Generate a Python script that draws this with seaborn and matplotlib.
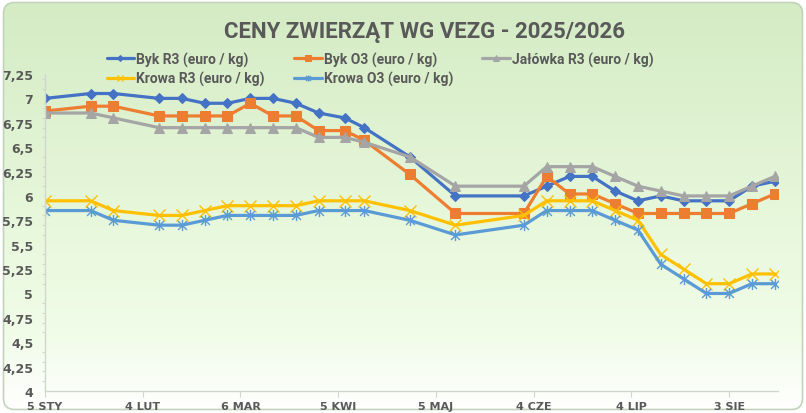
import numpy as np
import pandas as pd
import seaborn as sns
import matplotlib
matplotlib.use("Agg")
import matplotlib.pyplot as plt
from matplotlib import font_manager
from matplotlib.path import Path
from matplotlib.patches import FancyBboxPatch
from matplotlib.ticker import FuncFormatter, MultipleLocator
from matplotlib.colors import LinearSegmentedColormap

# dane
dates = ["2025-01-05", "2025-01-19", "2025-01-26", "2025-02-09", "2025-02-16", "2025-02-23",
         "2025-03-02", "2025-03-09", "2025-03-16", "2025-03-23", "2025-03-30", "2025-04-07",
         "2025-04-13", "2025-04-27", "2025-05-11", "2025-06-01", "2025-06-08", "2025-06-15",
         "2025-06-22", "2025-06-29", "2025-07-06", "2025-07-13", "2025-07-20", "2025-07-27",
         "2025-08-03", "2025-08-10", "2025-08-17"]
byk_r3 = [7.00, 7.05, 7.05, 7.00, 7.00, 6.95, 6.95, 7.00, 7.00, 6.95, 6.85, 6.80, 6.70, 6.40,
          6.00, 6.00, 6.10, 6.20, 6.20, 6.05, 5.95, 6.00, 5.95, 5.95, 5.95, 6.10, 6.15]
byk_o3 = [6.87, 6.92, 6.92, 6.82, 6.82, 6.82, 6.82, 6.95, 6.82, 6.82, 6.67, 6.67, 6.57, 6.22,
          5.82, 5.82, 6.20, 6.02, 6.02, 5.92, 5.82, 5.82, 5.82, 5.82, 5.82, 5.92, 6.02]
jalowka_r3 = [6.85, 6.85, 6.80, 6.70, 6.70, 6.70, 6.70, 6.70, 6.70, 6.70, 6.60, 6.60, 6.55, 6.40,
              6.10, 6.10, 6.30, 6.30, 6.30, 6.20, 6.10, 6.05, 6.00, 6.00, 6.00, 6.10, 6.20]
krowa_r3 = [5.95, 5.95, 5.85, 5.80, 5.80, 5.85, 5.90, 5.90, 5.90, 5.90, 5.95, 5.95, 5.95, 5.85,
            5.70, 5.80, 5.95, 5.95, 5.95, 5.85, 5.75, 5.40, 5.25, 5.10, 5.10, 5.20, 5.20]
krowa_o3 = [5.85, 5.85, 5.75, 5.70, 5.70, 5.75, 5.80, 5.80, 5.80, 5.80, 5.85, 5.85, 5.85, 5.75,
            5.60, 5.70, 5.85, 5.85, 5.85, 5.75, 5.65, 5.30, 5.15, 5.00, 5.00, 5.10, 5.10]

labels = ["Byk R3 (euro / kg)", "Byk O3 (euro / kg)", "Jałówka R3 (euro / kg)",
          "Krowa R3 (euro / kg)", "Krowa O3 (euro / kg)"]
tick_dates = ["2025-01-05", "2025-02-04", "2025-03-06", "2025-04-05", "2025-05-05",
              "2025-06-04", "2025-07-04", "2025-08-03"]
tick_labels = ["5 STY", "4 LUT", "6 MAR", "5 KWI", "5 MAJ", "4 CZE", "4 LIP", "3 SIE"]

df = pd.DataFrame({"data": pd.to_datetime(dates), labels[0]: byk_r3, labels[1]: byk_o3,
                   labels[2]: jalowka_r3, labels[3]: krowa_r3, labels[4]: krowa_o3})


def pick_font(names):
    for n in names:
        try:
            font_manager.findfont(n, fallback_to_default=False)
            return n
        except Exception:
            pass
    return "DejaVu Sans"


sns.set_theme(style="white")
narrow = pick_font(["Liberation Sans Narrow", "DejaVu Sans Condensed", "Roboto"])
plt.rcParams['font.family'] = [narrow, 'DejaVu Sans']

W, H = 806, 414
fig = plt.figure(figsize=(W / 100, H / 100), dpi=100)
fig.patch.set_facecolor("white")

# tlo z gradientem w zaokraglonej ramce
bg = fig.add_axes([0, 0, 1, 1], zorder=-5)
bg.set_xlim(0, W)
bg.set_ylim(H, 0)
bg.axis("off")
cmap = LinearSegmentedColormap.from_list("bg", [(0, "#d4ebc4"), (0.55, "#e8f8dc"),
                                               (0.82, "#f1fce9"), (1.0, "#ffffff")])
grad = np.linspace(0, 1, 256).reshape(-1, 1)
img = bg.imshow(grad, cmap=cmap, aspect="auto", extent=(3, 803, 411, 3))
box = FancyBboxPatch((3.5, 3.5), 799, 407, boxstyle="round,pad=0,rounding_size=11",
                     fc="none", ec="#c3d3bb", lw=1.2)
bg.add_patch(box)
img.set_clip_path(box)

ax = fig.add_axes([45 / W, 1 - 392 / H, (778 - 45) / W, (392 - 75) / H])
ax.set_facecolor("none")

star = Path([(-1, -1), (1, 1), (-1, 1), (1, -1), (0, -1.25), (0, 1.25)],
            [Path.MOVETO, Path.LINETO, Path.MOVETO, Path.LINETO, Path.MOVETO, Path.LINETO])
styles = [
    dict(color="#4472c4", marker="D", markersize=5.5),
    dict(color="#ed7d31", marker="s", markersize=7),
    dict(color="#a5a5a5", marker="^", markersize=7.5),
    dict(color="#ffc000", marker="x", markersize=8.5, markeredgewidth=1),
    dict(color="#5b9bd5", marker=star, markersize=8, markeredgewidth=1),
]
for lab, st in zip(labels, styles):
    sns.lineplot(data=df, x="data", y=lab, ax=ax, label=lab, linewidth=2.3,
                 markeredgecolor=st["color"], **st)

ax.set_ylim(4, 7.25)
ax.set_xlim(pd.Timestamp("2025-01-05"), pd.Timestamp("2025-01-05") + pd.Timedelta(days=225))
ax.yaxis.set_major_locator(MultipleLocator(0.25))
ax.yaxis.set_minor_locator(MultipleLocator(0.1))
ax.yaxis.set_major_formatter(FuncFormatter(lambda v, p: f"{v:g}".replace(".", ",")))
ax.set_xticks(pd.to_datetime(tick_dates))
ax.set_xticklabels(tick_labels)
ax.set_xlabel("")
ax.set_ylabel("")

for s in ["top", "right"]:
    ax.spines[s].set_visible(False)
for s in ["left", "bottom"]:
    ax.spines[s].set_color("#d0d8cc")
    ax.spines[s].set_linewidth(1)

ax.tick_params(axis="y", which="major", length=0, pad=8.5, labelsize=9, labelcolor="#595959")
ax.tick_params(axis="y", which="minor", left=True, length=2.5, width=0.8, color="#d0d8cc")
ax.tick_params(axis="x", which="major", bottom=True, length=4, width=0.8, color="#d0d8cc",
               pad=3, labelsize=8, labelcolor="#595959")
for t in ax.get_yticklabels():
    t.set_fontfamily(["DejaVu Sans"])
    t.set_fontweight("bold")
for t in ax.get_xticklabels():
    t.set_fontfamily(["DejaVu Sans"])
    t.set_fontweight("bold")

fig.text(424 / W, 1 - 32 / H, "CENY ZWIERZĄT WG VEZG - 2025/2026", ha="center", va="center",
         fontsize=16, color="#595959", fontweight="bold")

handles, labs = ax.get_legend_handles_labels()
ax.get_legend().remove()
order = [0, 3, 1, 4, 2]
fig.legend([handles[i] for i in order], [labs[i] for i in order], ncol=3,
           loc="upper left", bbox_to_anchor=(94 / W, 1 - 40 / H), frameon=False,
           labelcolor="#595959", handlelength=2.0, handletextpad=0.15,
           columnspacing=2.1, labelspacing=0.33, markerscale=0.55,
           prop={"weight": "bold", "size": 10})

fig.savefig("out.png", dpi=100)
